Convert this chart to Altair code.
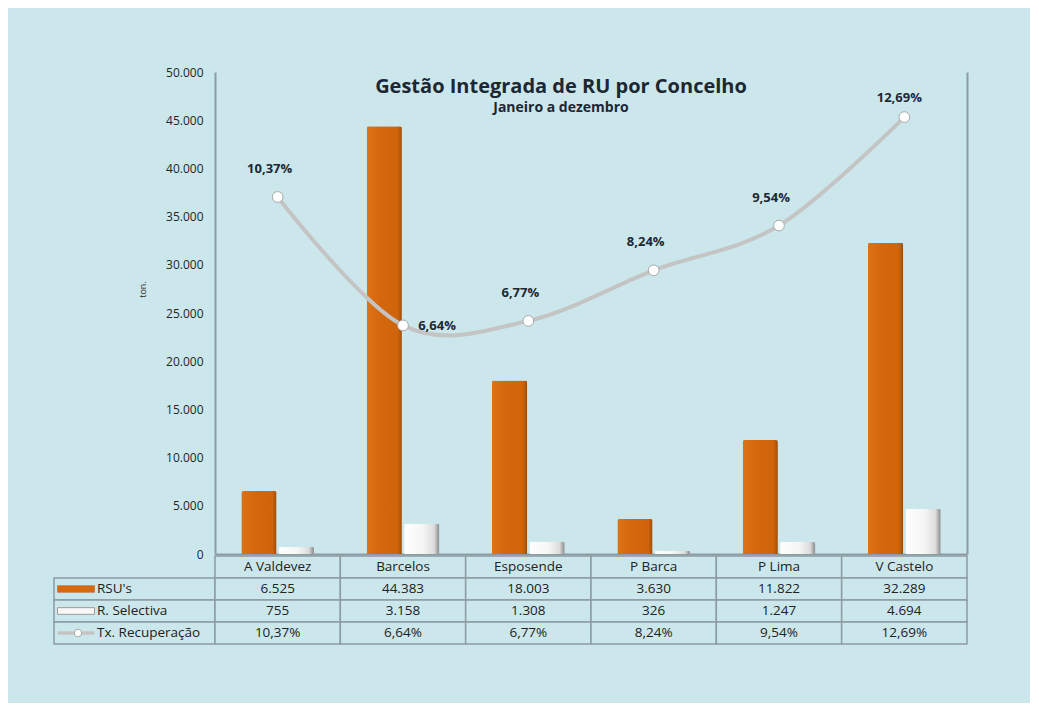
import altair as alt
import pandas as pd

# ---------------- data ----------------
concelhos = ["A Valdevez", "Barcelos", "Esposende", "P Barca", "P Lima", "V Castelo"]
rsu = [6525, 44383, 18003, 3630, 11822, 32289]
selectiva = [755, 3158, 1308, 326, 1247, 4694]
tx_recuperacao = [10.37, 6.64, 6.77, 8.24, 9.54, 12.69]
series_names = ["RSU's", "R. Selectiva"]
row_keys = ["hdr", "RSU's", "R. Selectiva", "Tx. Recuperação"]
y_ticks = [0, 5000, 10000, 15000, 20000, 25000, 30000, 35000, 40000, 45000, 50000]

FONT = "Open Sans"
TXT = "#1d2733"
GRID = "#8d9ca3"
BG = "#cbe7ec"


def fmt_int(v):
    return f"{v:,}".replace(",", ".")


def fmt_pct(v):
    return f"{v:.2f}".replace(".", ",") + "%"


bars_df = pd.DataFrame({
    "concelho": concelhos * 2,
    "serie": [series_names[0]] * len(concelhos) + [series_names[1]] * len(concelhos),
    "ton": rsu + selectiva,
})
rate_df = pd.DataFrame({
    "concelho": concelhos,
    "taxa": [t / 100 for t in tx_recuperacao],
    "rotulo": [fmt_pct(t) for t in tx_recuperacao],
})
table_rows = []
for i, c in enumerate(concelhos):
    table_rows.append({"concelho": c, "linha": "hdr", "texto": c})
    table_rows.append({"concelho": c, "linha": "RSU's", "texto": fmt_int(rsu[i])})
    table_rows.append({"concelho": c, "linha": "R. Selectiva", "texto": fmt_int(selectiva[i])})
    table_rows.append({"concelho": c, "linha": "Tx. Recuperação", "texto": fmt_pct(tx_recuperacao[i])})
table_df = pd.DataFrame(table_rows)
label_df = pd.DataFrame({"linha": row_keys[1:]})

# ---------------- top chart ----------------
x_enc = alt.X(
    "concelho:N",
    sort=concelhos,
    scale=alt.Scale(domain=concelhos, paddingInner=0.42, paddingOuter=0.21),
    axis=alt.Axis(labels=False, ticks=False, title=None, domainColor=GRID, domainWidth=2),
)
xoff_enc = alt.XOffset("serie:N", scale=alt.Scale(domain=series_names, paddingInner=0.06))
y_bar = alt.Y(
    "ton:Q",
    scale=alt.Scale(domain=[0, 50000], nice=False),
    axis=alt.Axis(
        values=y_ticks, grid=False, ticks=False, domainColor=GRID, domainWidth=2,
        labelExpr="replace(format(datum.value, ','), ',', '.')",
        labelFont=FONT, labelFontSize=12, labelColor="#262626", labelPadding=12,
        title="ton.", titleFont=FONT, titleFontSize=9, titleFontWeight="normal",
        titleColor="#262626", titlePadding=18, titleY=217,
    ),
)

orange_grad = alt.Gradient(
    gradient="linear", x1=0, x2=1, y1=0, y2=0,
    stops=[
        alt.GradientStop(color="#dc7316", offset=0),
        alt.GradientStop(color="#d5680d", offset=0.35),
        alt.GradientStop(color="#cf640b", offset=0.88),
        alt.GradientStop(color="#9e4c08", offset=1),
    ],
)
white_grad = alt.Gradient(
    gradient="linear", x1=0, x2=1, y1=0, y2=0,
    stops=[
        alt.GradientStop(color="#ffffff", offset=0),
        alt.GradientStop(color="#f5f5f5", offset=0.55),
        alt.GradientStop(color="#dcdcdc", offset=0.85),
        alt.GradientStop(color="#8a8a8a", offset=1),
    ],
)

base_bars = alt.Chart(bars_df)
bar_rsu = base_bars.transform_filter(alt.datum.serie == series_names[0]).mark_bar(
    color=orange_grad, cornerRadiusTopLeft=2, cornerRadiusTopRight=2
).encode(x=x_enc, xOffset=xoff_enc, y=y_bar)
bar_sel = base_bars.transform_filter(alt.datum.serie == series_names[1]).mark_bar(
    color=white_grad, cornerRadiusTopLeft=2, cornerRadiusTopRight=2
).encode(x=x_enc, xOffset=xoff_enc, y=y_bar)
bars = alt.layer(bar_rsu, bar_sel)

y_rate = alt.Y(
    "taxa:Q",
    scale=alt.Scale(domain=[0, 0.14], nice=False),
    axis=alt.Axis(orient="right", labels=False, ticks=False, title=None, grid=False,
                  domainColor=GRID, domainWidth=2),
)
base_rate = alt.Chart(rate_df)
line = base_rate.mark_line(interpolate="cardinal", color="#c4c4c4", strokeWidth=4).encode(
    x=x_enc, y=y_rate
)
pts = base_rate.mark_circle(color="white", stroke="#a9a9a9", strokeWidth=1, size=115, opacity=1).encode(
    x=x_enc, y=y_rate
)
lbl_kw = dict(font=FONT, fontSize=13, fontWeight="bold", color=TXT)
lbl_main = base_rate.transform_filter(
    (alt.datum.concelho != "Barcelos") & (alt.datum.concelho != "V Castelo")
).mark_text(dy=-28, dx=-8, **lbl_kw).encode(x=x_enc, y=y_rate, text="rotulo:N")
lbl_side = base_rate.transform_filter(alt.datum.concelho == "Barcelos").mark_text(
    dx=34, dy=1, **lbl_kw
).encode(x=x_enc, y=y_rate, text="rotulo:N")
lbl_last = base_rate.transform_filter(alt.datum.concelho == "V Castelo").mark_text(
    dx=-5, dy=-19, **lbl_kw
).encode(x=x_enc, y=y_rate, text="rotulo:N")
rate_layer = alt.layer(line, pts, lbl_main, lbl_side, lbl_last)

top = alt.layer(bars, rate_layer).resolve_scale(y="independent").properties(
    width=752, height=482,
    title=alt.TitleParams(
        text="Gestão Integrada de RU por Concelho",
        subtitle="Janeiro  a dezembro",
        font=FONT, fontSize=20, fontWeight="bold", color=TXT,
        subtitleFont=FONT, subtitleFontSize=14, subtitleFontWeight="bold", subtitleColor=TXT,
        subtitlePadding=4, anchor="middle", frame="group", offset=-49, dx=-30,
    ),
)

spacer = alt.Chart(label_df).mark_text(text=" ").encode(opacity=alt.value(0)).properties(
    width=161, height=482
)

# ---------------- table ----------------
y_tab = alt.Y("linha:N", scale=alt.Scale(domain=row_keys, paddingInner=0, paddingOuter=0), axis=None)
x_tab = alt.X("concelho:N", sort=concelhos,
              scale=alt.Scale(domain=concelhos, paddingInner=0, paddingOuter=0), axis=None)
base_tab = alt.Chart(table_df)
cells = base_tab.mark_rect(fill=BG, stroke=GRID, strokeWidth=1.5).encode(x=x_tab, y=y_tab)
cell_txt = base_tab.mark_text(font=FONT, fontSize=13.5, color="#222222").encode(
    x=x_tab, y=y_tab, text="texto:N"
)
values_tab = alt.layer(cells, cell_txt).properties(width=752, height=88)

base_lab = alt.Chart(label_df)
lab_cells = base_lab.mark_rect(fill=BG, stroke=GRID, strokeWidth=1.5).encode(y=y_tab)
lab_txt = base_lab.mark_text(font=FONT, fontSize=13.5, color="#222222", align="left", dx=-37.5).encode(
    y=y_tab, text="linha:N"
)
sym_rsu = base_lab.transform_filter(alt.datum.linha == "RSU's").mark_point(
    shape="M-1,-0.18H1V0.18H-1Z", size=1369, filled=True, fill="#d76a0e", stroke="#b0550a",
    strokeWidth=0.5, opacity=1, xOffset=-58.5
).encode(y=y_tab)
sym_sel = base_lab.transform_filter(alt.datum.linha == "R. Selectiva").mark_point(
    shape="M-1,-0.18H1V0.18H-1Z", size=1369, filled=True, fill="#f8f8f8", stroke="#9a9a9a",
    strokeWidth=1, opacity=1, xOffset=-58.5
).encode(y=y_tab)
sym_line = base_lab.transform_filter(alt.datum.linha == "Tx. Recuperação").mark_point(
    shape="M-1,-0.1H1V0.1H-1Z", size=1369, filled=True, fill="#c4c4c4", opacity=1, xOffset=-58.5
).encode(y=y_tab)
sym_dot = base_lab.transform_filter(alt.datum.linha == "Tx. Recuperação").mark_circle(
    color="white", stroke="#a9a9a9", strokeWidth=1, size=55, opacity=1, xOffset=-56.5
).encode(y=y_tab)
labels_tab = alt.layer(lab_cells, lab_txt, sym_rsu, sym_sel, sym_line, sym_dot).properties(
    width=161, height=88
)

chart = alt.concat(
    spacer, top, labels_tab, values_tab,
    columns=2, bounds="flush", align="each", spacing={"row": 2, "column": 0},
).resolve_scale(
    x="independent", y="independent"
).properties(
    background=BG,
    padding={"left": 45, "top": 58, "right": 62, "bottom": 58},
).configure_view(strokeWidth=0)

chart.save("out.html", embed_options={"renderer": "svg", "actions": False})
